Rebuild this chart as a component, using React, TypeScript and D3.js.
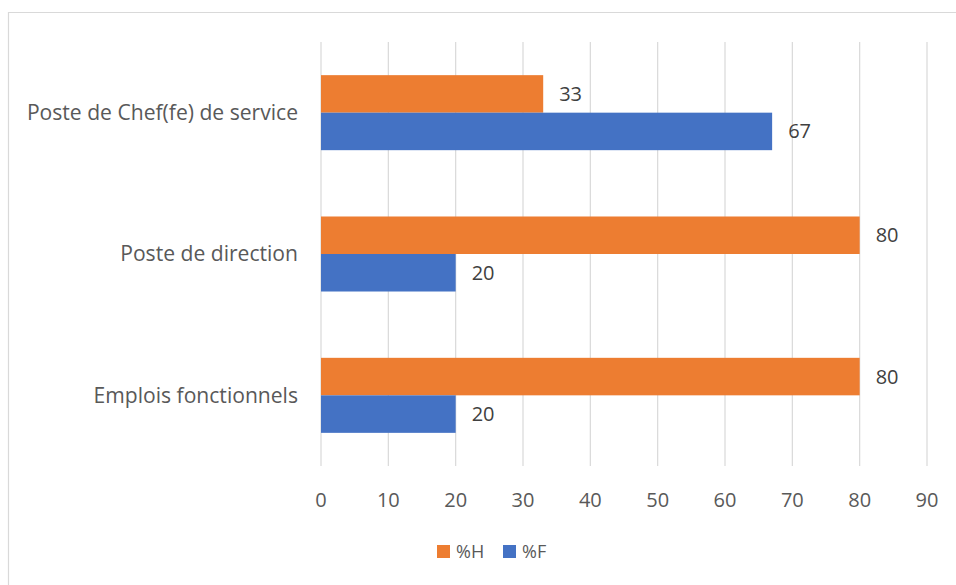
import React from "react";
import * as d3 from "d3";

const categories = ["Poste de Chef(fe) de service", "Poste de direction", "Emplois fonctionnels"];
const seriesNames = ["%H", "%F"];
const valuesH = [33, 80, 80];
const valuesF = [67, 20, 20];
const xTicks = [0, 10, 20, 30, 40, 50, 60, 70, 80, 90];
const colors = ["#ED7D31", "#4472C4"];

const W = 956;
const H = 585;
const FONT = "'Open Sans', 'Noto Sans', sans-serif";

export default function App() {
  const x = d3.scaleLinear().domain([0, 90]).range([321, 927]);
  const y = d3.scaleBand<string>().domain(categories).range([42, 466]).paddingInner(0).paddingOuter(0);
  const sub = d3.scaleBand<string>().domain(seriesNames).range([0, y.bandwidth()]).paddingInner(0).paddingOuter(0.884);
  const series = [valuesH, valuesF];

  return (
    <svg width={W} height={H} style={{ position: "absolute", left: 0, top: 0 }} fontFamily={FONT}>
      <rect x={0} y={0} width={W} height={H} fill="#fff" />
      <path d={`M8.5,${H} V12.5 H${W}`} fill="none" stroke="#D9D9D9" strokeWidth={1.2} />
      {xTicks.map((t) => (
        <line key={t} x1={x(t)} x2={x(t)} y1={42} y2={466} stroke="#D9D9D9" strokeWidth={1.2} />
      ))}
      {categories.map((c, i) => (
        <g key={c}>
          {series.map((vals, s) => {
            const yy = (y(c) as number) + (sub(seriesNames[s]) as number);
            const bw = sub.bandwidth();
            return (
              <g key={s}>
                <rect x={x(0)} y={yy} width={x(vals[i]) - x(0)} height={bw} fill={colors[s]} />
                <text x={x(vals[i]) + 16} y={yy + bw / 2} dy="0.35em" fontSize={20} fill="#404040">
                  {vals[i]}
                </text>
              </g>
            );
          })}
          <text x={298} y={(y(c) as number) + y.bandwidth() / 2} dy="0.35em" textAnchor="end" fontSize={21.1} fill="#595959">
            {c}
          </text>
        </g>
      ))}
      {xTicks.map((t) => (
        <text key={t} x={x(t)} y={500} dy="0.35em" textAnchor="middle" fontSize={20} fill="#595959">
          {t}
        </text>
      ))}
      {seriesNames.map((n, s) => {
        const lx = [437, 503][s];
        return (
          <g key={n}>
            <rect x={lx} y={545} width={13} height={13} fill={colors[s]} />
            <text x={lx + 19} y={551.5} dy="0.35em" fontSize={18} fill="#595959">
              {n}
            </text>
          </g>
        );
      })}
    </svg>
  );
}
